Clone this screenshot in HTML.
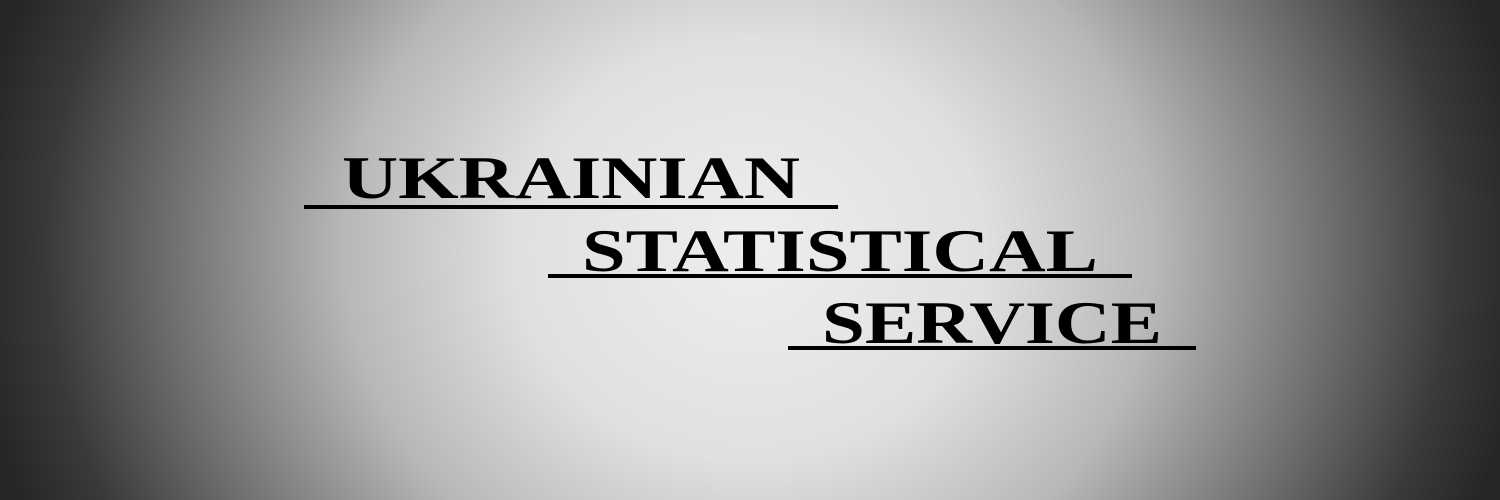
<!DOCTYPE html>
<html><head><meta charset="utf-8"><style>
html,body{margin:0;padding:0;width:1500px;height:500px;overflow:hidden}
#banner{position:absolute;left:0;top:0;width:1500px;height:500px;
background:radial-gradient(ellipse 780px 700px at 750px 250px,#eeeeee 0%,#e0e0e0 30%,#b8b8b8 52%,#707070 74%,#3a3a3a 90%,#262626 100%);}
svg{position:absolute;left:0;top:0}
text{font-family:"Liberation Serif",serif;font-weight:bold;fill:#000}
</style></head><body>
<div id="banner">
<svg width="1500" height="500">
<text x="342" y="198" font-size="60" textLength="458" lengthAdjust="spacingAndGlyphs">UKRAINIAN</text>
<rect x="304" y="205" width="534" height="4" fill="#000"/>
<text x="582" y="271" font-size="60" textLength="516" lengthAdjust="spacingAndGlyphs">STATISTICAL</text>
<rect x="548" y="274" width="584" height="4" fill="#000"/>
<text x="822" y="343" font-size="60" textLength="340" lengthAdjust="spacingAndGlyphs">SERVICE</text>
<rect x="788" y="346" width="408" height="4" fill="#000"/>
</svg>
</div>
</body></html>
